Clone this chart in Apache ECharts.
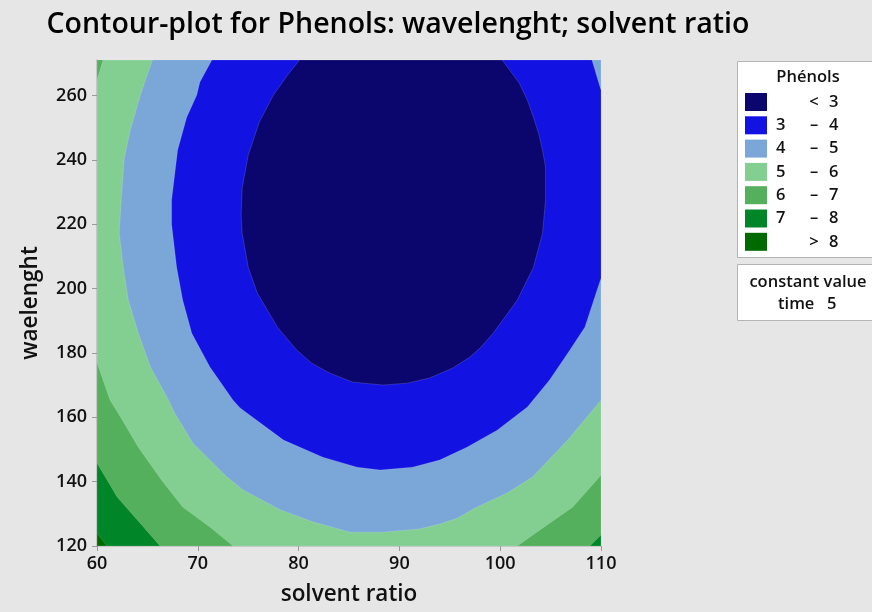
<!DOCTYPE html>
<html><head><meta charset="utf-8">
<script src="https://cdn.jsdelivr.net/npm/echarts@6/dist/echarts.min.js"></script>
<style>html,body{margin:0;padding:0;background:#e6e6e6;}#c{width:872px;height:612px;}</style>
</head><body><div id="c"></div>
<script>
// Axis ranges and tick labels
const xMin = 60, xMax = 110, yMin = 120, yMax = 271;
const xTicks = [60, 70, 80, 90, 100, 110];
const yTicks = [120, 140, 160, 180, 200, 220, 240, 260];

// Contour levels and band colours (lowest to highest)
const levels = [3, 4, 5, 6, 7, 8];
const bandColors = ['#0b066d', '#1212e2', '#7ba7d8', '#83ce91', '#55b05d', '#008529', '#006a00'];

// Contour boundaries ([solvent ratio, wavelength])
const c3 = [[80.1,271],[78.9,266.3],[77.5,260.1],[76.1,251.7],[75.0,241.4],[74.4,231.2],[74.3,222.8],[74.4,217.2],[75.0,206.6],[75.9,198.6],[77.9,188.0],[79.8,180.9],[81.3,176.8],[83.1,173.7],[85.4,170.9],[88.4,170.0],[90.8,170.6],[93.0,172.2],[95.3,175.3],[97.0,178.7],[98.0,181.5],[99.3,186.1],[101.7,196.4],[103.3,206.6],[104.2,217.2],[104.5,227.5],[104.5,237.7],[104.2,243.0],[103.8,248.3],[103.3,253.2],[102.7,258.5],[101.9,263.8],[100.2,271]];
const c4 = [[71.4,271],[70.2,264.1],[69.9,260.1],[68.9,253.2],[68.0,243.0],[67.6,232.7],[67.4,227.5],[67.4,220.0],[67.9,206.6],[68.5,196.4],[69.4,186.1],[71.2,175.6],[73.5,165.3],[74.2,162.9],[78.5,152.9],[82.4,147.6],[85.8,144.5],[88.1,143.6],[91.3,144.5],[94.0,146.7],[96.7,150.7],[99.7,156.0],[102.7,163.2],[104.9,171.6],[106.7,179.9],[108.4,188.0],[110,203.2],[110,261.6],[109.1,271]];
const c5 = [[65.5,271],[64.3,260.1],[63.3,249.2],[62.7,240.5],[62.4,227.5],[62.2,217.2],[62.6,206.6],[63.1,196.4],[64.1,186.1],[65.3,175.6],[66.0,171.6],[67.1,165.3],[67.7,161.3],[69.5,152.0],[72.9,141.4],[74.5,137.4],[78.2,131.2],[81.4,127.5],[85.1,124.3],[88.4,124.3],[92.0,125.3],[94.0,126.8],[95.8,128.7],[97.5,131.8],[100.7,136.5],[103.2,141.4],[106.7,152.9],[110,165.3]];
const c6TopLeft = [[60.6,271],[60,264.7]];
const c6Left = [[60,177.1],[60.6,171.6],[61.3,165.3],[62.1,161.3],[64.1,150.7],[66.4,140.5],[68.5,132.1],[71.2,125.9],[73.5,120]];
const c6Right = [[101.7,120],[104.9,127.1],[107.2,132.1],[110,142.0]];
const c7Left = [[60,145.8],[62.0,135.2],[64.0,128.1],[66.25,120]];
const c7Right = [[108.9,120],[110,123.4]];
const c8Left = [[60,124.0],[61.0,120]];

const chart = echarts.init(document.getElementById('c'), null, {renderer: 'canvas'});

// Regions {f < level}, drawn from largest to smallest
const regions = [
  [[xMin,yMin],[xMax,yMin],[xMax,yMax],[xMin,yMax]],                 // > 8 background
  [[xMin,yMax]].concat(c8Left, [[xMax,yMin],[xMax,yMax]]),            // < 8
  [[xMin,yMax]].concat(c7Left, c7Right, [[xMax,yMax]]),               // < 7
  c6TopLeft.concat(c6Left, c6Right, [[xMax,yMax]]),                   // < 6
  c5.concat([[xMax,yMax]]),                                           // < 5
  c4,                                                                 // < 4
  c3                                                                  // < 3
];
const regionColors = [bandColors[6], bandColors[5], bandColors[4], bandColors[3], bandColors[2], bandColors[1], bandColors[0]];

const series = regions.map(function (pts, i) {
  return {
    type: 'custom', coordinateSystem: 'cartesian2d', data: pts, clip: true, silent: true,
    encode: {x: 0, y: 1}, z: 2 + i,
    renderItem: function (params, api) {
      if (params.dataIndex !== 0) return null;
      return {type: 'polygon', shape: {points: pts.map(function (p) { return api.coord(p); })},
        style: {fill: regionColors[i], stroke: 'rgba(255,255,255,0.25)', lineWidth: 0.6}};
    }
  };
});

const FONT = '"Open Sans", sans-serif';
const LF = '600 16.5px ' + FONT;
const bandLabels = bandColors.map(function (c, i) {
  if (i === 0) return ['', '<', String(levels[0])];
  if (i === bandColors.length - 1) return ['', '>', String(levels[levels.length - 1])];
  return [String(levels[i - 1]), '\u2013', String(levels[i])];
});

const graphics = [
  {type: 'rect', shape: {x: 737.5, y: 61.5, width: 140, height: 196}, style: {fill: '#ffffff', stroke: '#b4b4b4', lineWidth: 1}, z: 1},
  {type: 'text', x: 808, y: 77, style: {text: 'Phénols', font: LF, fill: '#111', textAlign: 'center', textVerticalAlign: 'middle'}, z: 2},
  {type: 'rect', shape: {x: 737.5, y: 264.5, width: 140, height: 56}, style: {fill: '#ffffff', stroke: '#b4b4b4', lineWidth: 1}, z: 1},
  {type: 'text', x: 808, y: 282, style: {text: 'constant value', font: LF, fill: '#111', textAlign: 'center', textVerticalAlign: 'middle'}, z: 2},
  {type: 'text', x: 778, y: 304, style: {text: 'time', font: LF, fill: '#111', textAlign: 'left', textVerticalAlign: 'middle'}, z: 2},
  {type: 'text', x: 827, y: 304, style: {text: '5', font: LF, fill: '#111', textAlign: 'left', textVerticalAlign: 'middle'}, z: 2}
];
bandColors.forEach(function (c, i) {
  const y0 = 93 + i * 23.3;
  graphics.push({type: 'rect', shape: {x: 745, y: y0, width: 22, height: 18}, style: {fill: c}, z: 2});
  const lab = bandLabels[i];
  const st = {font: LF, fill: '#111', textVerticalAlign: 'middle'};
  graphics.push({type: 'text', x: 776, y: y0 + 9, style: Object.assign({text: lab[0], textAlign: 'left'}, st), z: 2});
  graphics.push({type: 'text', x: 814, y: y0 + 9, style: Object.assign({text: lab[1], textAlign: 'center'}, st), z: 2});
  graphics.push({type: 'text', x: 829, y: y0 + 9, style: Object.assign({text: lab[2], textAlign: 'left'}, st), z: 2});
});

chart.setOption({
  backgroundColor: '#e6e6e6',
  animation: false,
  title: {
    text: 'Contour-plot for Phenols: wavelenght; solvent ratio',
    left: 393, top: 5, textAlign: 'center',
    textStyle: {fontFamily: FONT, fontWeight: 600, fontSize: 28.5, color: '#000'}
  },
  grid: {left: 97, top: 60, right: 271, bottom: 66, show: false},
  xAxis: {
    type: 'value', min: xMin, max: xMax, interval: 10,
    name: 'solvent ratio', nameLocation: 'middle', nameGap: 37,
    nameTextStyle: {fontFamily: FONT, fontWeight: 600, fontSize: 22.5, color: '#111'},
    axisLine: {show: true, onZero: false, lineStyle: {color: '#bdbdbd', width: 1.5}},
    axisTick: {show: true, length: 5, lineStyle: {color: '#9a9a9a'}, customValues: xTicks},
    axisLabel: {fontFamily: FONT, fontWeight: 600, fontSize: 18, color: '#111', margin: 9, customValues: xTicks},
    splitLine: {show: false}
  },
  yAxis: {
    type: 'value', min: yMin, max: yMax,
    name: 'waelenght', nameLocation: 'middle', nameGap: 55, nameRotate: 90,
    nameTextStyle: {fontFamily: FONT, fontWeight: 600, fontSize: 22.5, color: '#111'},
    axisLine: {show: true, onZero: false, lineStyle: {color: '#bdbdbd', width: 1.5}},
    axisTick: {show: true, length: 5, lineStyle: {color: '#9a9a9a'}, customValues: yTicks},
    axisLabel: {fontFamily: FONT, fontWeight: 600, fontSize: 18, color: '#111', margin: 10, customValues: yTicks},
    splitLine: {show: false}
  },
  graphic: graphics,
  series: series
});
</script>
</body></html>
